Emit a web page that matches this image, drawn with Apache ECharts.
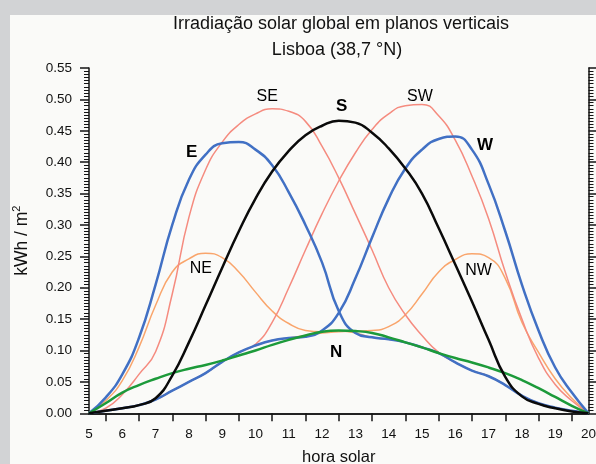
<!DOCTYPE html>
<html><head><meta charset="utf-8">
<script src="https://cdn.jsdelivr.net/npm/echarts@6/dist/echarts.min.js"></script>
<style>html,body{margin:0;padding:0;background:#d2d3d5}#c{width:596px;height:464px}</style>
</head><body><div id="c"></div>
<script>
// ---- data ----
const hours = [5,5.5,6,6.5,7,7.5,8,8.5,9,9.5,10,10.5,11,11.5,12,12.5,13,13.5,14,14.5,15,15.5,16,16.5,17,17.5,18,18.5,19,19.5,20];
const seriesE  = [0,0.025,0.062,0.12,0.205,0.30,0.372,0.412,0.43,0.432,0.42,0.395,0.352,0.30,0.24,0.163,0.128,0.121,0.118,0.113,0.105,0.096,0.081,0.068,0.059,0.045,0.028,0.016,0.009,0.004,0];
const seriesW  = [0,0.004,0.008,0.013,0.022,0.036,0.05,0.064,0.082,0.097,0.108,0.116,0.12,0.122,0.132,0.16,0.215,0.28,0.342,0.39,0.42,0.437,0.441,0.42,0.365,0.29,0.205,0.132,0.073,0.033,0];
const seriesS  = [0,0.004,0.008,0.013,0.024,0.06,0.113,0.172,0.232,0.29,0.342,0.385,0.418,0.443,0.458,0.466,0.463,0.447,0.422,0.39,0.35,0.295,0.237,0.178,0.117,0.058,0.027,0.015,0.008,0.003,0];
const seriesSE = [0,0.008,0.03,0.062,0.098,0.19,0.312,0.388,0.432,0.46,0.477,0.485,0.481,0.465,0.425,0.375,0.318,0.26,0.2,0.157,0.124,0.097,0.081,0.068,0.059,0.045,0.028,0.016,0.009,0.004,0];
const seriesSW = [0,0.004,0.008,0.013,0.022,0.036,0.05,0.064,0.082,0.097,0.11,0.145,0.2,0.26,0.318,0.37,0.415,0.452,0.477,0.49,0.492,0.474,0.435,0.378,0.31,0.225,0.15,0.088,0.046,0.02,0];
const seriesNE = [0,0.02,0.052,0.105,0.172,0.225,0.246,0.255,0.248,0.225,0.193,0.163,0.143,0.132,0.13,0.131,0.128,0.121,0.118,0.113,0.105,0.096,0.081,0.068,0.059,0.045,0.028,0.016,0.009,0.004,0];
const seriesNW = [0,0.004,0.008,0.013,0.022,0.036,0.05,0.064,0.082,0.097,0.108,0.116,0.12,0.124,0.128,0.13,0.131,0.132,0.138,0.157,0.19,0.225,0.245,0.254,0.248,0.215,0.145,0.097,0.055,0.024,0];
const seriesN  = [0,0.016,0.033,0.045,0.055,0.064,0.071,0.077,0.084,0.092,0.1,0.109,0.117,0.124,0.13,0.132,0.131,0.128,0.121,0.113,0.105,0.096,0.088,0.081,0.073,0.064,0.053,0.04,0.026,0.012,0];
const xLabelValues = [5,6,7,8,9,10,11,12,13,14,15,16,17,18,19,20];
const xTickValues = [5.5,6.5,7.5,8.5,9.5,10.5,11.5,12.5,13.5,14.5,15.5,16.5,17.5,18.5,19.5];
const labelNames = ['E','SE','S','SW','W','NE','NW','N'];
const labelX = [8.08,10.35,12.59,14.94,16.89,8.36,16.70,12.42];
const labelY = [0.4154,0.5046,0.4895,0.5046,0.4266,0.2298,0.2275,0.0976];
const labelBold = [true,false,true,false,true,false,false,true];
const titleText = 'Irradiação solar global em planos verticais';
const subtitleText = 'Lisboa (38,7 °N)';

// ---- chart ----
const FONT = "'Liberation Sans', Arial, sans-serif";
const chart = echarts.init(document.getElementById('c'));
const pairs = v => hours.map((h, i) => [h, v[i]]);
function lineSeries(name, data, color, width) {
  return { name, type: 'line', data: pairs(data), smooth: 0.5, symbol: 'none',
    lineStyle: { color, width }, itemStyle: { color }, silent: true };
}
const axisColor = '#141414';
const option = {
  backgroundColor: '#d2d3d5',
  animation: false,
  graphic: [
    { type: 'rect', z: -100, silent: true, shape: { x: 10, y: 15, width: 586, height: 449 }, style: { fill: '#fafaf8' } },
    { type: 'text', x: 341, y: 24.5, silent: true, style: { text: titleText, fontSize: 18, fontFamily: FONT, fill: '#111', align: 'center', verticalAlign: 'middle' } },
    { type: 'text', x: 337, y: 50.5, silent: true, style: { text: subtitleText, fontSize: 18, fontFamily: FONT, fill: '#111', align: 'center', verticalAlign: 'middle' } }
  ],
  grid: { left: 89, right: 7.5, top: 68, bottom: 50.7, outerBoundsMode: 'none', containLabel: false },
  xAxis: [
    { type: 'value', min: 5, max: 20, position: 'bottom',
      axisLine: { show: true, lineStyle: { color: axisColor, width: 1.5 } },
      axisTick: { show: true, customValues: xTickValues, length: 8, lineStyle: { color: axisColor, width: 1.5 } },
      axisLabel: { customValues: xLabelValues, margin: 14, fontSize: 13.5, color: '#111', fontFamily: FONT },
      splitLine: { show: false },
      name: 'hora solar', nameLocation: 'middle', nameGap: 36,
      nameTextStyle: { fontSize: 16.5, color: '#111', fontFamily: FONT } },
    { type: 'value', min: 5, max: 20, position: 'top',
      axisLine: { show: true, lineStyle: { color: axisColor, width: 1.5 } },
      axisTick: { show: false }, axisLabel: { show: false }, splitLine: { show: false } }
  ],
  yAxis: [
    { type: 'value', min: 0, max: 0.55, interval: 0.05, position: 'left',
      axisLine: { show: true, lineStyle: { color: axisColor, width: 1.5 } },
      axisTick: { show: true, length: 9, lineStyle: { color: axisColor, width: 1.5 } },
      minorTick: { show: true, splitNumber: 10, length: 5, lineStyle: { color: axisColor, width: 1 } },
      axisLabel: { formatter: v => v.toFixed(2), margin: 17, fontSize: 13.5, color: '#111', fontFamily: FONT },
      splitLine: { show: false }, minorSplitLine: { show: false },
      name: 'kWh / m{sup|2}', nameLocation: 'middle', nameGap: 56, nameRotate: 90,
      nameTextStyle: { fontSize: 17.5, color: '#111', fontFamily: FONT, lineHeight: 22,
        rich: { sup: { fontSize: 11, lineHeight: 22, verticalAlign: 'top', padding: [0, 0, 8, 0], fontFamily: FONT, color: '#111' } } } },
    { type: 'value', min: 0, max: 0.55, interval: 0.05, position: 'right',
      axisLine: { show: true, lineStyle: { color: axisColor, width: 1.5 } },
      axisTick: { show: true, length: 9, lineStyle: { color: axisColor, width: 1.5 } },
      minorTick: { show: true, splitNumber: 10, length: 5, lineStyle: { color: axisColor, width: 1 } },
      axisLabel: { show: false }, splitLine: { show: false }, minorSplitLine: { show: false } }
  ],
  series: [
    lineSeries('NE', seriesNE, '#f9a56c', 1.5),
    lineSeries('NW', seriesNW, '#f9a56c', 1.5),
    lineSeries('SE', seriesSE, '#f58b7f', 1.5),
    lineSeries('SW', seriesSW, '#f58b7f', 1.5),
    lineSeries('E', seriesE, '#4170c4', 2.5),
    lineSeries('W', seriesW, '#4170c4', 2.5),
    lineSeries('N', seriesN, '#1c9a3a', 2.5),
    lineSeries('S', seriesS, '#0a0a0a', 2.5),
    { type: 'scatter', silent: true, symbol: 'circle', symbolSize: 0, itemStyle: { color: '#000', opacity: 1 },
      data: labelNames.map((n, i) => ({ value: [labelX[i], labelY[i]], name: n,
        label: { fontWeight: labelBold[i] ? 'bold' : 'normal', fontSize: labelBold[i] ? 17 : 16 } })),
      label: { show: true, position: 'inside', formatter: p => p.name, color: '#000', opacity: 1,
        textBorderWidth: 0, fontFamily: FONT },
      z: 10 }
  ]
};
chart.setOption(option);
</script></body></html>
